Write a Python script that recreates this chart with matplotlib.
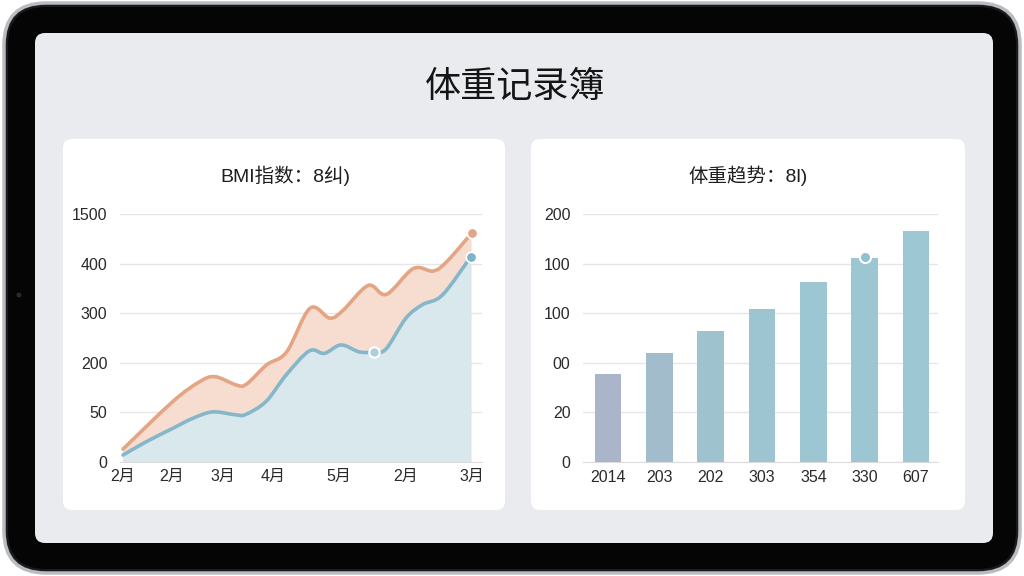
import matplotlib
matplotlib.use("Agg")
import matplotlib.pyplot as plt
from matplotlib.patches import FancyBboxPatch, Circle, PathPatch
from matplotlib.path import Path

plt.rcParams['font.family'] = ['Liberation Sans', 'Noto Sans CJK SC', 'DejaVu Sans']

# ---------------- data ----------------
title_main = "体重记录簿"
left_title = "BMI指数：8纠)"
right_title = "体重趋势：8l)"

left_yticklabels = ["0", "50", "200", "300", "400", "1500"]
left_xtick_pos = [0, 14, 28.6, 43, 62, 81, 100]
left_xticklabels = ["2月", "2月", "3月", "4月", "5月", "2月", "3月"]

orange_x = [0, 14.3, 22, 26.4, 32.6, 35.4, 41.2, 46.9, 53.6, 59.3, 63.1, 70.3, 75.5, 83.2, 88.9, 92.8, 99.9]
orange_y = [0.26, 1.22, 1.62, 1.72, 1.55, 1.57, 1.96, 2.22, 3.10, 2.90, 3.06, 3.56, 3.38, 3.90, 3.85, 4.04, 4.61]

blue_x = [0, 6.7, 14.3, 20, 25.7, 32.4, 35.2, 41, 46.7, 53.4, 57.7, 62.5, 67.7, 72, 75.4, 81.1, 85.8, 91.6, 99.7]
blue_y = [0.14, 0.41, 0.68, 0.88, 1.01, 0.95, 0.96, 1.22, 1.75, 2.24, 2.19, 2.36, 2.22, 2.22, 2.28, 2.90, 3.17, 3.37, 4.14]
blue_mid_marker = (72, 2.22)

bar_labels = ["2014", "203", "202", "303", "354", "330", "607"]
bar_values = [1.77, 2.19, 2.64, 3.09, 3.62, 4.11, 4.66]
bar_marker_value = 4.14
right_yticklabels = ["0", "20", "00", "100", "100", "200"]


def smooth_path_parts(xs, ys, t=0.5):
    """Catmull-Rom -> cubic Bezier vertices/codes through the given points."""
    verts = [(xs[0], ys[0])]
    codes = [Path.MOVETO]
    n = len(xs)
    for i in range(n - 1):
        x0, y0 = (xs[i - 1], ys[i - 1]) if i > 0 else (xs[i], ys[i])
        x1, y1 = xs[i], ys[i]
        x2, y2 = xs[i + 1], ys[i + 1]
        x3, y3 = (xs[i + 2], ys[i + 2]) if i + 2 < n else (x2, y2)
        c1 = (x1 + (x2 - x0) / 6 * t * 2, y1 + (y2 - y0) / 6 * t * 2)
        c2 = (x2 - (x3 - x1) / 6 * t * 2, y2 - (y3 - y1) / 6 * t * 2)
        verts += [c1, c2, (x2, y2)]
        codes += [Path.CURVE4] * 3
    return verts, codes


def add_smooth(ax, xs, ys, color, lw, z):
    v, c = smooth_path_parts(xs, ys)
    ax.add_patch(PathPatch(Path(v, c), fc="none", ec=color, lw=lw, zorder=z,
                           capstyle="round", joinstyle="round"))


def add_smooth_fill(ax, xs, ys, color, z):
    v, c = smooth_path_parts(xs, ys)
    v = v + [(xs[-1], 0), (xs[0], 0), (xs[0], ys[0])]
    c = c + [Path.LINETO, Path.LINETO, Path.CLOSEPOLY]
    ax.add_patch(PathPatch(Path(v, c), fc=color, ec="none", lw=0, zorder=z))


# ---------------- figure ----------------
W, H = 1024, 576
fig = plt.figure(figsize=(W / 100, H / 100), dpi=100)
fig.patch.set_facecolor("white")

bg = fig.add_axes([0, 0, 1, 1])
bg.set_xlim(0, W)
bg.set_ylim(H, 0)
bg.axis("off")

# device frame
bg.add_patch(FancyBboxPatch((4, 3), 1016, 570, boxstyle="round,pad=0,rounding_size=42",
                            fc="#1a1a1a", ec="#b9bcc0", lw=2.5))
bg.add_patch(FancyBboxPatch((8, 7), 1008, 562, boxstyle="round,pad=0,rounding_size=38",
                            fc="#050505", ec="none"))
# screen
bg.add_patch(FancyBboxPatch((35, 33), 958, 510, boxstyle="round,pad=0,rounding_size=10",
                            fc="#e9ebee", ec="none"))
# camera
bg.add_patch(Circle((19, 295), 2.5, fc="#2a2a2a", ec="none"))
# cards
bg.add_patch(FancyBboxPatch((63, 139), 442, 371, boxstyle="round,pad=0,rounding_size=9",
                            fc="white", ec="none"))
bg.add_patch(FancyBboxPatch((531, 139), 434, 371, boxstyle="round,pad=0,rounding_size=9",
                            fc="white", ec="none"))

bg.text(515, 87, title_main, ha="center", va="center", fontsize=26, color="#151515",
        fontweight="medium")
bg.text(285, 176, left_title, ha="center", va="center", fontsize=14, color="#1e1e1e")
bg.text(748, 176, right_title, ha="center", va="center", fontsize=14, color="#1e1e1e")

grid_c = "#e6e6e6"
tick_c = "#2a2a2a"

# ---------------- left chart ----------------
axL = fig.add_axes([120 / W, (H - 462) / H, 362 / W, 248 / H])
axL.set_facecolor("none")
axL.set_xlim(-0.86, 102.9)
axL.set_ylim(0, 5)
add_smooth_fill(axL, orange_x, orange_y, "#f6ddd0", 1)
add_smooth_fill(axL, blue_x, blue_y, "#d8e8ec", 2)
add_smooth(axL, orange_x, orange_y, "#e3a584", 2.6, 3)
add_smooth(axL, blue_x, blue_y, "#86b6c9", 2.6, 4)
axL.plot([orange_x[-1]], [orange_y[-1]], "o", ms=7.5, color="#e3a584", mec="white", mew=1.2,
         zorder=5, clip_on=False)
axL.plot([blue_x[-1]], [blue_y[-1]], "o", ms=7.5, color="#7fb3c9", mec="white", mew=1.2,
         zorder=5, clip_on=False)
axL.plot([blue_mid_marker[0]], [blue_mid_marker[1]], "o", ms=7.5, color="#a9d0dc", mec="white",
         mew=1.5, zorder=5)
axL.set_yticks(range(6))
axL.set_yticklabels(left_yticklabels)
axL.set_xticks(left_xtick_pos)
axL.set_xticklabels(left_xticklabels)
axL.grid(axis="y", color=grid_c, lw=1)
axL.set_axisbelow(True)
for s in ["top", "right", "left"]:
    axL.spines[s].set_visible(False)
axL.spines["bottom"].set_color("#dcdcdc")
axL.tick_params(length=0, labelsize=11.5, colors=tick_c)
axL.tick_params(axis="y", pad=9)
axL.tick_params(axis="x", pad=5)

# ---------------- right chart ----------------
axR = fig.add_axes([583 / W, (H - 462) / H, 355 / W, 248 / H])
axR.set_facecolor("none")
axR.set_xlim(-0.49, 6.43)
axR.set_ylim(0, 5)
bar_colors = ["#aab5c9", "#a3bccb", "#9ec3cf", "#9cc5d1", "#9cc6d1", "#9cc6d2", "#9dc7d3"]
xs = list(range(len(bar_values)))
axR.bar(xs, bar_values, width=0.52, color=bar_colors, zorder=3)
axR.plot([5], [bar_marker_value], "o", ms=8, color="#8fbfd3", mec="white", mew=1.5, zorder=4)
axR.set_yticks(range(6))
axR.set_yticklabels(right_yticklabels)
axR.set_xticks(xs)
axR.set_xticklabels(bar_labels)
axR.grid(axis="y", color=grid_c, lw=1)
axR.set_axisbelow(True)
for s in ["top", "right", "left"]:
    axR.spines[s].set_visible(False)
axR.spines["bottom"].set_color("#dcdcdc")
axR.tick_params(length=0, labelsize=11.5, colors=tick_c)
axR.tick_params(axis="y", pad=9)
axR.tick_params(axis="x", pad=6)

fig.savefig("out.png", dpi=100)
